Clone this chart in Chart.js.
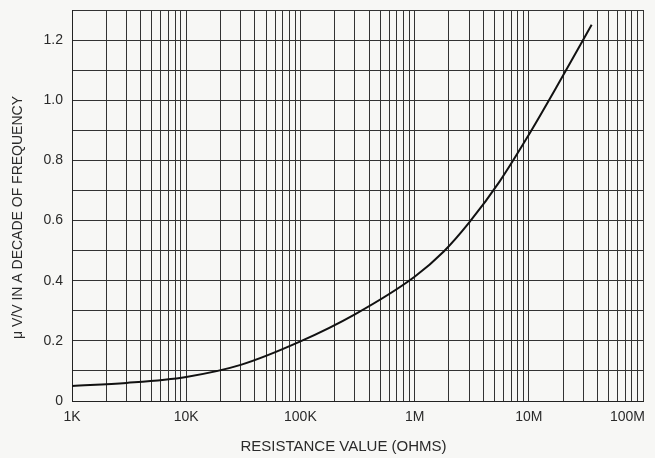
<!DOCTYPE html>
<html>
<head>
<meta charset="utf-8">
<script src="https://cdn.jsdelivr.net/npm/chart.js@4.4.1/dist/chart.umd.min.js"></script>
<style>
  html, body { margin: 0; padding: 0; background: #f7f7f5; }
  #wrap { width: 655px; height: 458px; position: relative; }
</style>
</head>
<body>
<div id="wrap"><canvas id="grafico"></canvas></div>
<script>
// valores
const resistencia = [1e3, 3e3, 1e4, 3e4, 1e5, 3e5, 1e6, 1.8e6, 3e6, 5.6e6, 1e7, 1.8e7, 3.55e7];
const ruido = [0.05, 0.06, 0.08, 0.12, 0.198, 0.288, 0.413, 0.497, 0.593, 0.732, 0.885, 1.052, 1.251];

// eixo X: décadas e rótulos
const decadas = [1e3, 1e4, 1e5, 1e6, 1e7, 1e8];
const rotulosX = ['1K', '10K', '100K', '1M', '10M', '100M'];
const yMin = 0, yMax = 1.3, yPasso = 0.1;

const tituloX = 'RESISTANCE VALUE (OHMS)';
const tituloY = 'μ V/V IN A DECADE OF FREQUENCY';

const corTexto = '#2a2a2a';
const fonte = '"Liberation Sans", Arial, sans-serif';

// linhas de grade: 1..9 em cada década
const ticksX = [];
decadas.forEach((d, i) => {
    if (i === decadas.length - 1) { ticksX.push(d); return; }
    for (let k = 1; k <= 9; k++) ticksX.push(d * k);
});

const fundo = {
    id: 'fundo',
    beforeDraw(chart) {
        const c = chart.ctx;
        c.save();
        c.fillStyle = '#f7f7f5';
        c.fillRect(0, 0, chart.width, chart.height);
        c.restore();
    }
};

// rótulos do eixo X e títulos dos eixos
const textos = {
    id: 'textos',
    afterDraw(chart) {
        const c = chart.ctx;
        const x = chart.scales.x;
        const a = chart.chartArea;
        c.save();
        c.fillStyle = corTexto;
        c.font = '14px ' + fonte;
        c.textBaseline = 'middle';
        c.textAlign = 'center';
        decadas.forEach((v, i) => {
            const w = c.measureText(rotulosX[i]).width;
            let px = x.getPixelForValue(v);
            px = Math.min(px, chart.width - 10 - w / 2);
            c.fillText(rotulosX[i], px, a.bottom + 16);
        });
        c.font = '15px ' + fonte;
        c.fillText(tituloX, (a.left + a.right) / 2 - 14, a.bottom + 46);
        c.translate(18, (a.top + a.bottom) / 2 + 12);
        c.rotate(-Math.PI / 2);
        c.font = '14px ' + fonte;
        c.fillText(tituloY, 0, 0);
        c.restore();
    }
};

new Chart(document.getElementById('grafico'), {
    type: 'scatter',
    data: {
        datasets: [{
            data: resistencia.map((r, i) => ({ x: r, y: ruido[i] })),
            showLine: true,
            borderColor: '#111',
            borderWidth: 2,
            pointRadius: 0,
            cubicInterpolationMode: 'monotone'
        }]
    },
    options: {
        responsive: true,
        maintainAspectRatio: false,
        animation: false,
        layout: { padding: { top: 10, right: 12, left: 0, bottom: 0 } },
        plugins: { legend: { display: false }, tooltip: { enabled: false } },
        scales: {
            x: {
                type: 'logarithmic',
                min: decadas[0],
                max: decadas[decadas.length - 1],
                afterBuildTicks: s => { s.ticks = ticksX.map(v => ({ value: v })); },
                afterFit: s => { s.height = 57; s.paddingLeft = 0; s.paddingRight = 0; },
                ticks: { display: false },
                grid: { color: '#333', lineWidth: 1, drawTicks: false },
                border: { color: '#222', width: 1 }
            },
            y: {
                min: yMin,
                max: yMax,
                afterFit: s => { s.width = 72; s.paddingTop = 0; s.paddingBottom = 0; },
                ticks: {
                    stepSize: yPasso,
                    padding: 9,
                    color: corTexto,
                    font: { family: fonte, size: 14 },
                    callback: v => {
                        const n = Math.round(v * 10);
                        if (n % 2 !== 0 || n > 12) return '';
                        return n === 0 ? '0' : (n / 10).toFixed(1);
                    }
                },
                grid: { color: '#333', lineWidth: 1, drawTicks: false },
                border: { color: '#222', width: 1 }
            }
        }
    },
    plugins: [fundo, textos]
});
</script>
</body>
</html>
